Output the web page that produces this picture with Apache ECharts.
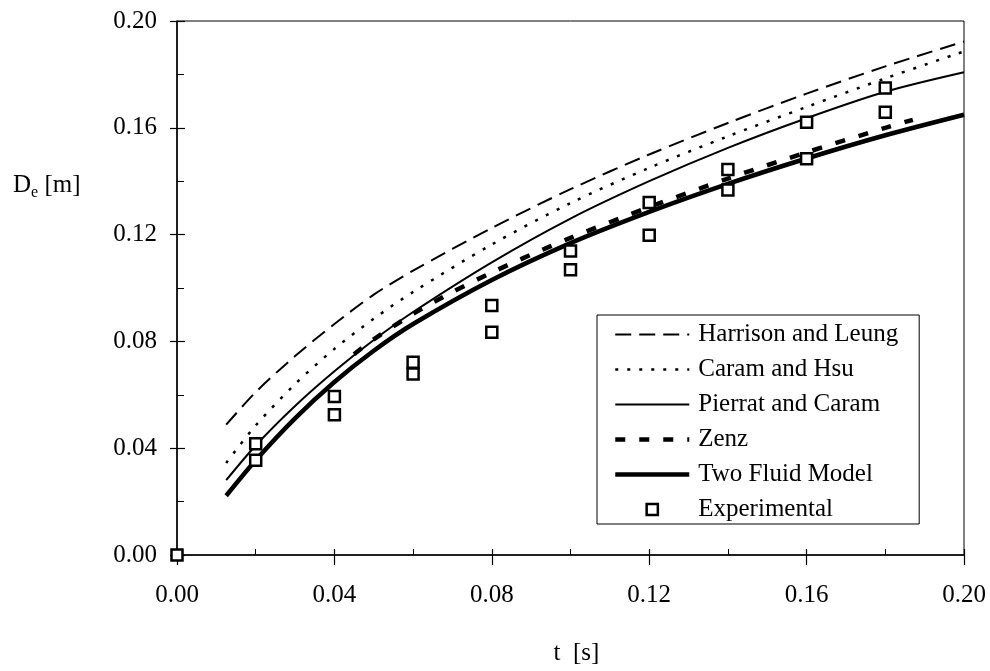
<!DOCTYPE html>
<html>
<head>
<meta charset="utf-8">
<script src="https://cdn.jsdelivr.net/npm/echarts@6/dist/echarts.min.js"></script>
<style>
  html, body { margin: 0; padding: 0; background: #fff; }
  #chart { width: 990px; height: 671px; }
</style>
</head>
<body>
<div id="chart"></div>
<script>
// Time grid for the model curves [s]
const curveT = [0.0125, 0.02, 0.03, 0.04, 0.05, 0.06, 0.08, 0.10, 0.12, 0.14, 0.16, 0.18, 0.20];
// Bubble diameter predicted by each correlation [m]
const harrisonLeung = [0.0488, 0.0610, 0.0745, 0.0865, 0.0975, 0.1065, 0.1225, 0.1370, 0.1500, 0.1618, 0.1728, 0.1830, 0.1923];
const caramHsu      = [0.0345, 0.0485, 0.0640, 0.0772, 0.0885, 0.0985, 0.1163, 0.1318, 0.1450, 0.1568, 0.1678, 0.1785, 0.1886];
const pierratCaram  = [0.0280, 0.0410, 0.0558, 0.0688, 0.0805, 0.0910, 0.1096, 0.1260, 0.1400, 0.1525, 0.1636, 0.1735, 0.1808];
const twoFluid      = [0.0222, 0.0355, 0.0512, 0.0648, 0.0765, 0.0865, 0.1030, 0.1168, 0.1285, 0.1390, 0.1485, 0.1572, 0.1649];
// Zenz correlation covers a shorter time range
const zenzT = [0.045, 0.05, 0.06, 0.07, 0.08, 0.09, 0.10, 0.12, 0.14, 0.16, 0.18, 0.187];
const zenz  = [0.0752, 0.0808, 0.0903, 0.0985, 0.1058, 0.1125, 0.1188, 0.1303, 0.1410, 0.1508, 0.1600, 0.1630];
// Measured bubble diameters
const expT = [0, 0.02, 0.02, 0.04, 0.04, 0.06, 0.06, 0.08, 0.08, 0.10, 0.10, 0.12, 0.12, 0.14, 0.14, 0.16, 0.16, 0.18, 0.18];
const expD = [0, 0.0417, 0.0355, 0.0594, 0.0525, 0.0722, 0.0678, 0.0934, 0.0834, 0.1139, 0.1068, 0.1320, 0.1198, 0.1444, 0.1367, 0.1621, 0.1484, 0.1749, 0.1658];

const seriesNames = ['Harrison and Leung', 'Caram and Hsu', 'Pierrat and Caram', 'Zenz', 'Two Fluid Model', 'Experimental'];
const xTicks = { min: 0, max: 0.20, interval: 0.04 };
const yTicks = { min: 0, max: 0.20, interval: 0.04 };

const FONT = "'Liberation Serif', 'Times New Roman', serif";
const FS = 25;
const pair = (xs, ys) => xs.map((x, i) => [x, ys[i]]);
const fmt = v => v.toFixed(2);

const chart = echarts.init(document.getElementById('chart'), null, { renderer: 'canvas' });

function lineSeries(name, xs, ys, width, type) {
  return {
    name, type: 'line', data: pair(xs, ys),
    xAxisIndex: 0, yAxisIndex: 0,
    symbol: 'none', showSymbol: false, smooth: 0.3,
    lineStyle: { color: '#000', width, type, cap: 'butt' },
    itemStyle: { color: '#000' },
    emphasis: { disabled: true }, silent: true, z: 3
  };
}

const baseAxis = {
  type: 'value',
  splitLine: { show: false },
  minorSplitLine: { show: false }
};

chart.setOption({
  backgroundColor: '#fff',
  animation: false,
  textStyle: { fontFamily: FONT, color: '#000' },
  title: {
    text: '{n|D}{s|e}{n| [m]}',
    left: 8, top: 168,
    textStyle: {
      fontWeight: 'normal',
      rich: {
        n: { fontFamily: FONT, fontSize: FS, fontWeight: 'normal', color: '#000', verticalAlign: 'top', lineHeight: 25 },
        s: { fontFamily: FONT, fontSize: 16, fontWeight: 'normal', color: '#000', verticalAlign: 'bottom', lineHeight: 28 }
      }
    }
  },
  grid: {
    left: 177, right: 26, top: 21, bottom: 114,
    show: true, borderColor: '#000', borderWidth: 1, backgroundColor: 'transparent'
  },
  xAxis: [
    Object.assign({}, baseAxis, xTicks, {
      position: 'bottom',
      name: 't  [s]', nameLocation: 'middle', nameGap: 86,
      nameTextStyle: { fontFamily: FONT, fontSize: FS, color: '#000', padding: [0, 0, 0, 12] },
      axisLine: { show: true, lineStyle: { color: '#000', width: 1.5 } },
      axisTick: { show: true, inside: false, length: 10, lineStyle: { color: '#000', width: 1.2 } },
      axisLabel: { margin: 28, fontFamily: FONT, fontSize: FS, color: '#000', formatter: fmt }
    }),
    Object.assign({}, baseAxis, xTicks, {
      position: 'bottom',
      axisLine: { show: false },
      axisLabel: { show: false },
      axisTick: { show: true, inside: true, length: 6, lineStyle: { color: '#000', width: 1.2 } },
      minorTick: { show: true, splitNumber: 2, length: 6, lineStyle: { color: '#000', width: 1 } }
    })
  ],
  yAxis: [
    Object.assign({}, baseAxis, yTicks, {
      position: 'left',
      axisLine: { show: true, lineStyle: { color: '#000', width: 1.5 } },
      axisTick: { show: true, inside: false, length: 7, lineStyle: { color: '#000', width: 1.2 } },
      axisLabel: { margin: 20, fontFamily: FONT, fontSize: FS, color: '#000', formatter: fmt }
    }),
    Object.assign({}, baseAxis, yTicks, {
      position: 'left',
      axisLine: { show: false },
      axisLabel: { show: false },
      axisTick: { show: true, inside: true, length: 8, lineStyle: { color: '#000', width: 1.2 } },
      minorTick: { show: true, splitNumber: 2, length: 7, lineStyle: { color: '#000', width: 1 } }
    })
  ],
  legend: {
    orient: 'vertical',
    left: 597, top: 315,
    backgroundColor: '#fff', borderColor: '#000', borderWidth: 1,
    padding: [7, 21, 2, 16],
    itemWidth: 74, itemHeight: 14, itemGap: 10,
    selectedMode: false,
    textStyle: { fontFamily: FONT, fontSize: FS, color: '#000', padding: [0, 0, 0, 4] },
    data: [
      { name: seriesNames[0], itemStyle: { opacity: 0 }, lineStyle: { width: 2 } },
      { name: seriesNames[1], itemStyle: { opacity: 0 }, lineStyle: { width: 2.5 } },
      { name: seriesNames[2], itemStyle: { opacity: 0 }, lineStyle: { width: 2 } },
      { name: seriesNames[3], itemStyle: { opacity: 0 }, lineStyle: { width: 4.5 } },
      { name: seriesNames[4], itemStyle: { opacity: 0 }, lineStyle: { width: 4.5 } },
      { name: seriesNames[5], itemStyle: { color: '#fff', borderColor: '#000', borderWidth: 2.5 }, lineStyle: { opacity: 0 } }
    ]
  },
  series: [
    lineSeries(seriesNames[0], curveT, harrisonLeung, 2, [16, 8]),
    lineSeries(seriesNames[1], curveT, caramHsu, 2.5, [3, 9]),
    lineSeries(seriesNames[2], curveT, pierratCaram, 2, 'solid'),
    lineSeries(seriesNames[3], zenzT, zenz, 4.5, [10, 14]),
    lineSeries(seriesNames[4], curveT, twoFluid, 4.5, 'solid'),
    {
      name: seriesNames[5], type: 'line', data: pair(expT, expD),
      xAxisIndex: 0, yAxisIndex: 0,
      symbol: 'rect', symbolSize: 11, showSymbol: true, showAllSymbol: true,
      clip: false,
      lineStyle: { opacity: 0, width: 0 },
      itemStyle: { color: '#fff', borderColor: '#000', borderWidth: 2.5 },
      emphasis: { disabled: true }, silent: true, z: 6
    }
  ]
});
</script>
</body>
</html>
